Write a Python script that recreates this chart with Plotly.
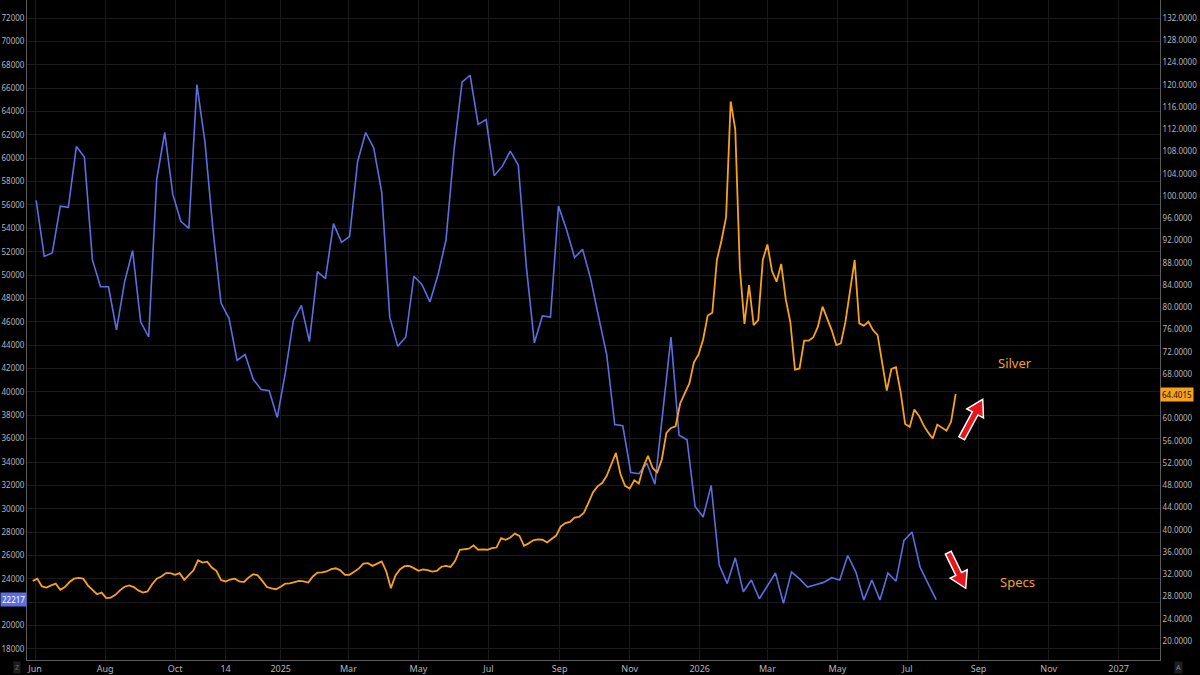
import plotly.graph_objects as go
import pandas as pd

# weekly speculative net positioning (left axis)
specs_start = "2024-06-02"
specs = [56400, 51600, 51900, 55900, 55800, 61000, 60100, 51300, 49000, 49000,
         45300, 49400, 52100, 46000, 44700, 58200, 62200, 56900, 54600, 54000,
         66300, 61400, 53900, 47600, 46300, 42700, 43200, 41100, 40200, 40100,
         37800, 41600, 46100, 47400, 44300, 50300, 49700, 54400, 52800, 53300,
         59700, 62200, 60900, 57100, 46400, 43900, 44700, 49900, 49200, 47700,
         50000, 53000, 60700, 66500, 67100, 62900, 63300, 58500, 59300, 60600,
         59400, 50700, 44200, 46500, 46400, 55900, 53900, 51500, 52200, 49700,
         46400, 43200, 37200, 37100, 33100, 33000, 33900, 32100, 38400, 44700,
         36300, 35900, 30200, 29300, 32000, 25200, 23600, 25800, 22900, 23900,
         22300, 23400, 24500, 21900, 24600, 24000, 23300, 23500, 23700, 24100,
         23900, 26000, 24600, 22200, 23900, 22200, 24500, 23800, 27300, 28000,
         25000, 23600, 22217]

# silver price, one reading every 4 days (right axis)
silver_start = "2024-05-30"
silver = [30.8, 31.2, 29.8, 29.6, 30.0, 30.3, 29.2, 29.7, 30.6, 31.2,
          31.35, 31.2, 30.0, 29.2, 28.4, 28.7, 27.7, 27.8, 28.3, 29.1,
          29.75, 30.0, 29.7, 29.1, 28.7, 28.9, 30.2, 31.2, 31.6, 32.2,
          32.2, 31.9, 32.2, 31.0, 31.8, 32.7, 34.5, 34.1, 34.25, 33.2,
          32.6, 30.95, 30.7, 31.05, 31.2, 30.7, 30.6, 31.4, 32.0, 31.8,
          30.8, 29.7, 29.45, 29.3, 29.76, 30.3, 30.36, 30.6, 30.8, 30.7,
          30.5, 31.6, 32.3, 32.35, 32.5, 32.9, 33.07, 32.7, 31.9, 31.9,
          32.4, 33.0, 33.9, 34.0, 33.5, 33.97, 34.3, 32.5, 29.5, 31.8,
          32.9, 33.45, 33.5, 33.1, 32.6, 32.87, 32.75, 32.47, 32.6, 33.35,
          33.49, 33.3, 34.4, 36.4, 36.5, 36.6, 37.2, 36.4, 36.46, 36.4,
          36.7, 36.8, 38.5, 38.2, 38.6, 39.3, 38.9, 37.1, 37.55, 38.1,
          38.25, 38.2, 37.7, 38.4, 38.95, 40.6, 41.2, 41.4, 42.2, 42.3,
          43.0, 44.8, 46.7, 47.8, 48.4, 49.7, 51.7, 53.8, 50.0, 47.9,
          47.4, 48.9, 48.3, 51.3, 53.3, 51.1, 50.3, 52.6, 57.4, 58.3,
          58.6, 62.7, 64.5, 66.3, 70.1, 71.5, 74.2, 78.5, 79.0, 88.5,
          92.0, 96.2, 117.0, 112.0, 87.0, 77.0, 84.0, 76.8, 77.7, 88.5,
          91.3, 86.5, 84.6, 87.8, 81.4, 77.3, 68.8, 69.0, 74.0, 74.0,
          74.6, 76.5, 80.1, 78.1, 75.9, 73.2, 73.5, 77.4, 82.6, 88.5,
          77.1, 76.7, 77.4, 75.9, 75.0, 70.0, 65.0, 68.9, 69.2, 64.8,
          59.0, 58.5, 61.6, 60.5, 58.8, 57.5, 56.4, 58.9, 58.4, 57.8,
          59.4, 64.4015]

tick_dates = ["2024-06-01", "2024-08-01", "2024-10-01", "2024-11-14", "2025-01-01",
              "2025-03-01", "2025-05-01", "2025-07-01", "2025-09-01", "2025-11-01",
              "2026-01-01", "2026-03-01", "2026-05-01", "2026-07-01", "2026-09-01",
              "2026-11-01", "2027-01-01"]
tick_text = ["Jun", "Aug", "Oct", "14", "2025", "Mar", "May", "Jul", "Sep", "Nov",
             "2026", "Mar", "May", "Jul", "Sep", "Nov", "2027"]

specs_dates = pd.date_range(specs_start, periods=len(specs), freq="7D")
silver_dates = pd.date_range(silver_start, periods=len(silver), freq="4D")

BLUE = '#5b6ee3'
ORANGE = '#f7a21b'
AXIS_TXT = '#b2b5be'

W, H = 1200, 675
ML, MR, MT, MB = 27, 40, 0, 15
PW, PH = W - ML - MR, H - MT - MB


def arrow_path(tail, tip, half_shaft=3.2, half_head=9.5, head_len=16.0):
    # fat arrow polygon, built in screen pixels, returned in paper units
    dx, dy = tip[0] - tail[0], tip[1] - tail[1]
    ln = (dx * dx + dy * dy) ** 0.5
    ux, uy = dx / ln, dy / ln
    nx, ny = -uy, ux
    bx, by = tip[0] - head_len * ux, tip[1] - head_len * uy
    pts = [
        (tail[0] + half_shaft * nx, tail[1] + half_shaft * ny),
        (bx + half_shaft * nx, by + half_shaft * ny),
        (bx + half_head * nx, by + half_head * ny),
        tip,
        (bx - half_head * nx, by - half_head * ny),
        (bx - half_shaft * nx, by - half_shaft * ny),
        (tail[0] - half_shaft * nx, tail[1] - half_shaft * ny),
    ]
    s = ''
    for i, (px, py) in enumerate(pts):
        s += ('M' if i == 0 else 'L') + '%.5f,%.5f ' % ((px - ML) / PW, (H - MB - py) / PH)
    return s + 'Z'


fig = go.Figure()
fig.add_trace(
    go.Scatter(
        x=specs_dates,
        y=specs,
        mode='lines',
        line=dict(color=BLUE, width=1.6),
        name='Specs',
        yaxis='y',
    )
)
fig.add_trace(
    go.Scatter(
        x=silver_dates,
        y=silver,
        mode='lines',
        line=dict(color=ORANGE, width=1.8),
        name='Silver',
        yaxis='y2',
    )
)

annotations = [
    dict(text='Silver', x='2026-10-03', y=70, xref='x', yref='y2', showarrow=False,
         font=dict(color=ORANGE, size=13)),
    dict(text='Specs', x='2026-10-05', y=23700, xref='x', yref='y', showarrow=False,
         font=dict(color=ORANGE, size=13)),
    # last value tags on the axes
    dict(text=str(specs[-1]), x=0, y=specs[-1], xref='paper', yref='y', xanchor='right',
         showarrow=False, bgcolor=BLUE, font=dict(color='white', size=8), borderpad=1),
    dict(text='%.4f' % silver[-1], x=1, y=silver[-1], xref='paper', yref='y2', xanchor='left',
         showarrow=False, bgcolor=ORANGE, font=dict(color='#111111', size=8), borderpad=1),
    # little corner buttons
    dict(text='Z', x=-0.012, y=-0.0114, xref='paper', yref='paper', showarrow=False,
         font=dict(color='#666666', size=7), bgcolor='#1e1e1e', yanchor='middle', borderpad=1),
    dict(text='A', x=1.02, y=-0.0114, xref='paper', yref='paper', showarrow=False,
         font=dict(color='#888888', size=7), bgcolor='#1e1e1e', yanchor='middle', borderpad=1),
]

shapes = [
    dict(type='path', xref='paper', yref='paper', path=arrow_path((961.7, 438.3), (982.7, 399.3)),
         fillcolor='#e8151b', line=dict(color='white', width=1.5)),
    dict(type='path', xref='paper', yref='paper', path=arrow_path((948.3, 552.7), (965.7, 588.3)),
         fillcolor='#e8151b', line=dict(color='white', width=1.5)),
]

axis_common = dict(
    showline=True,
    linecolor='#5c5c5c',
    zeroline=False,
    ticks='',
    automargin=False,
)

layout = go.Layout(
    template='none',
    width=W,
    height=H,
    plot_bgcolor='#000000',
    paper_bgcolor='#000000',
    font_family='Noto Sans',
    font_color=AXIS_TXT,
    showlegend=False,
    margin=dict(l=ML, r=MR, t=MT, b=MB, pad=0),
    xaxis=dict(
        type='date',
        range=['2024-05-25', '2027-02-06'],
        tickvals=tick_dates,
        ticktext=tick_text,
        tickfont=dict(size=9, color=AXIS_TXT),
        showgrid=True,
        gridcolor='#1a1a1a',
        **axis_common
    ),
    yaxis=dict(
        side='left',
        range=[17058, 73540],
        tick0=0,
        dtick=2000,
        tickformat='d',
        tickfont=dict(size=8, color=AXIS_TXT),
        showgrid=True,
        gridcolor='#1a1a1a',
        **axis_common
    ),
    yaxis2=dict(
        overlaying='y',
        side='right',
        range=[16.58, 135.24],
        tick0=0,
        dtick=4,
        tickformat='.4f',
        tickfont=dict(size=8, color=AXIS_TXT),
        showgrid=False,
        **axis_common
    ),
    annotations=annotations,
    shapes=shapes,
)
fig.update_layout(layout)
# the page body has a default 8px margin; drop it so the chart sits at the corner
fig.write_html("out.html", config={'displayModeBar': False},
               post_script="document.body.style.margin='0px';")
